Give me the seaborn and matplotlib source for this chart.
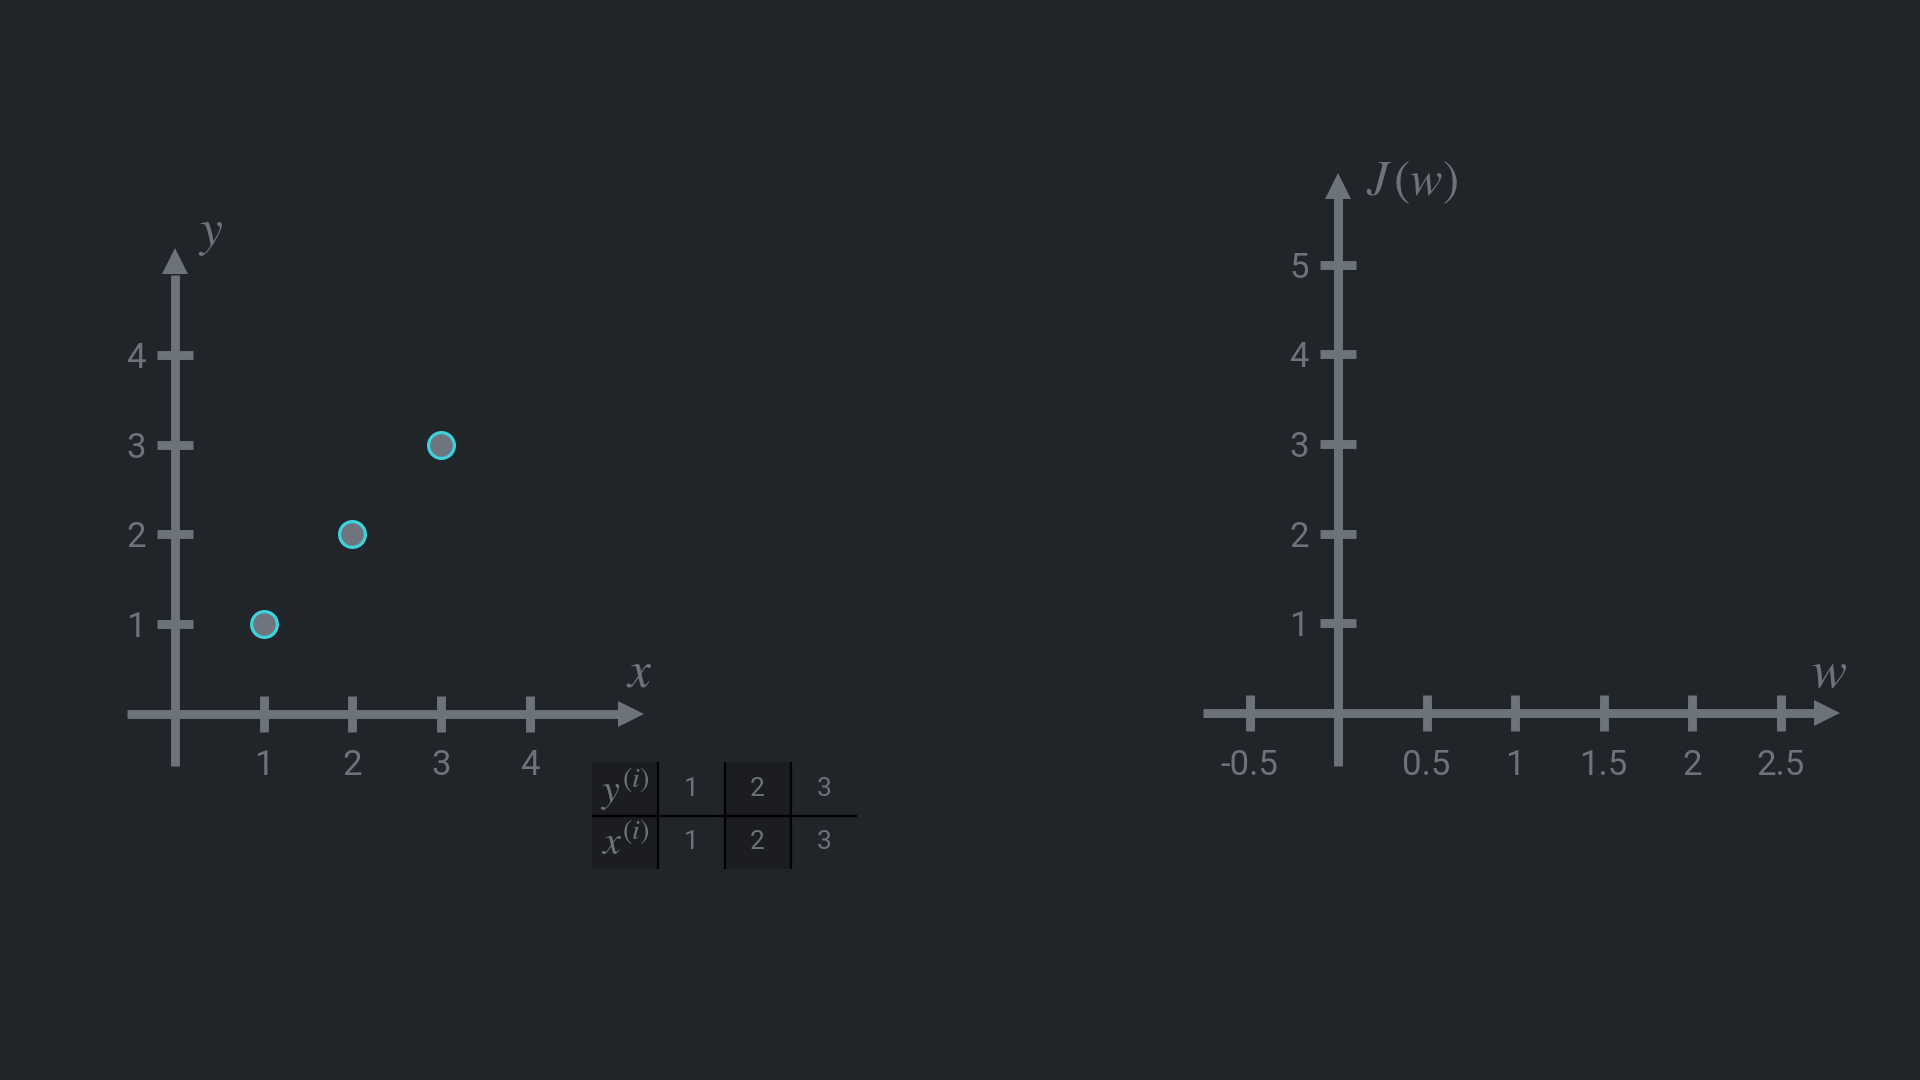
import matplotlib
matplotlib.use("Agg")
import matplotlib.pyplot as plt
import seaborn as sns
import pandas as pd

# ---------------- data ----------------
x_values = [1, 2, 3]
y_values = [1, 2, 3]
left_xticks = [1, 2, 3, 4]
left_yticks = [1, 2, 3, 4]
right_xticks = [-0.5, 0.5, 1, 1.5, 2, 2.5]
right_xticklabels = ["-0.5", "0.5", "1", "1.5", "2", "2.5"]
right_yticks = [1, 2, 3, 4, 5]
table_row_labels = [r"$y^{(i)}$", r"$x^{(i)}$"]
table_y_row = ["1", "2", "3"]
table_x_row = ["1", "2", "3"]

# ---------------- style ----------------
BG = "#212429"
GRAY = "#6c737b"
FILL = "#6e757e"
CYAN = "#3dd3dd"
DARK = "#1b1d20"

sns.set_theme(style="dark", rc={"axes.facecolor": BG, "figure.facecolor": BG,
                                "axes.grid": False})
plt.rcParams["font.family"] = ["Roboto", "DejaVu Sans"]
plt.rcParams["mathtext.fontset"] = "stix"
plt.rcParams["axes.unicode_minus"] = False

W, H = 1920, 1080
fig = plt.figure(figsize=(19.2, 10.8), dpi=100, facecolor=BG)


def add_axes_px(left, top, width, height):
    return fig.add_axes([left / W, 1 - (top + height) / H, width / W, height / H])


LW = 6.4         # ~9 px
ARROW = 19.4     # ~27 px
ARROW_PX = 27


def style_axes(ax, ux, uy, xbounds, ybounds, xtip, ytip, xticks, xlabels,
               yticks, xpad, ypad):
    ax.set_facecolor("none")
    for s in ("top", "right"):
        ax.spines[s].set_visible(False)
    for s in ("left", "bottom"):
        sp = ax.spines[s]
        sp.set_position(("data", 0))
        sp.set_color(GRAY)
        sp.set_linewidth(LW)
        sp.set_capstyle("butt")
    ax.spines["bottom"].set_bounds(*xbounds)
    ax.spines["left"].set_bounds(*ybounds)
    ax.set_xticks(xticks)
    ax.set_xticklabels(xlabels)
    ax.set_yticks(yticks)
    ax.set_yticklabels([str(v) for v in yticks])
    ax.tick_params(axis="both", which="major", bottom=True, left=True,
                   top=False, right=False, direction="inout", length=26.5,
                   width=LW, color=GRAY, labelcolor=GRAY, labelsize=25)
    ax.tick_params(axis="x", pad=xpad)
    ax.tick_params(axis="y", pad=ypad)
    # arrow heads
    ax.plot([xtip - ARROW_PX / 2 / ux], [0], marker=">", ms=ARROW, color=GRAY,
            mew=0, clip_on=False)
    ax.plot([0], [ytip - ARROW_PX / 2 / uy], marker="^", ms=ARROW, color=GRAY,
            mew=0, clip_on=False)
    ax.set_xlabel("")
    ax.set_ylabel("")


# ---------------- left chart ----------------
ux1, uy1 = 88.7, 89.8
ax1 = add_axes_px(175 - 0.7 * ux1, 714 - 5.4 * uy1, 6.2 * ux1, 6.2 * uy1)
df = pd.DataFrame({"x": x_values, "y": y_values})
sns.scatterplot(data=df, x="x", y="y", ax=ax1, s=345, color=FILL,
                edgecolor=CYAN, linewidth=2.3, zorder=5, clip_on=False)
style_axes(ax1, ux1, uy1, (-0.54, 4.993), (-0.575, 4.893), 5.294, 5.19,
           left_xticks, [str(v) for v in left_xticks], left_yticks,
           xpad=12, ypad=8)
ax1.set_xlim(-0.7, 5.5)
ax1.set_ylim(-0.8, 5.4)
ax1.text(0.40, 5.36, "$y$", fontsize=37, color=GRAY, ha="center", va="center")
ax1.text(5.23, 0.46, "$x$", fontsize=37, color=GRAY, ha="center", va="center")

# ---------------- right chart ----------------
ux2, uy2 = 177.0, 89.7
ax2 = add_axes_px(1338 - 0.8 * ux2, 713 - 6.3 * uy2, 3.8 * ux2, 7.1 * uy2)
style_axes(ax2, ux2, uy2, (-0.763, 2.692), (-0.59, 5.741), 2.839, 6.03,
           right_xticks, right_xticklabels, right_yticks, xpad=13, ypad=8)
ax2.set_xlim(-0.8, 3.0)
ax2.set_ylim(-0.8, 6.3)
ax2.text(0.418, 5.91, r"$J\,(w)$", fontsize=35, color=GRAY, ha="center",
         va="center")
ax2.text(2.777, 0.446, "$w$", fontsize=38, color=GRAY, ha="center",
         va="center")

# ---------------- table ----------------
axt = add_axes_px(592, 762, 265, 107)
axt.axis("off")
axt.set_xlim(0, 4)
axt.set_ylim(0, 2)
cells = [[table_row_labels[0]] + table_y_row, [table_row_labels[1]] + table_x_row]
tbl = axt.table(cellText=cells, bbox=[0, 0, 1, 1], cellLoc="center")
tbl.auto_set_font_size(False)
for (r, c), cell in tbl.get_celld().items():
    cell.set_facecolor(DARK if c in (0, 2) else BG)
    cell.set_edgecolor("none")
    cell.set_linewidth(0)
    cell.get_text().set_color(GRAY)
    cell.get_text().set_fontsize(29 if c == 0 else 19)
for xv in (1, 2, 3):
    axt.axvline(xv, color="black", lw=1.6, zorder=10)
axt.axhline(1, color="black", lw=1.6, zorder=10)

fig.savefig("out.png", dpi=100, facecolor=BG)
